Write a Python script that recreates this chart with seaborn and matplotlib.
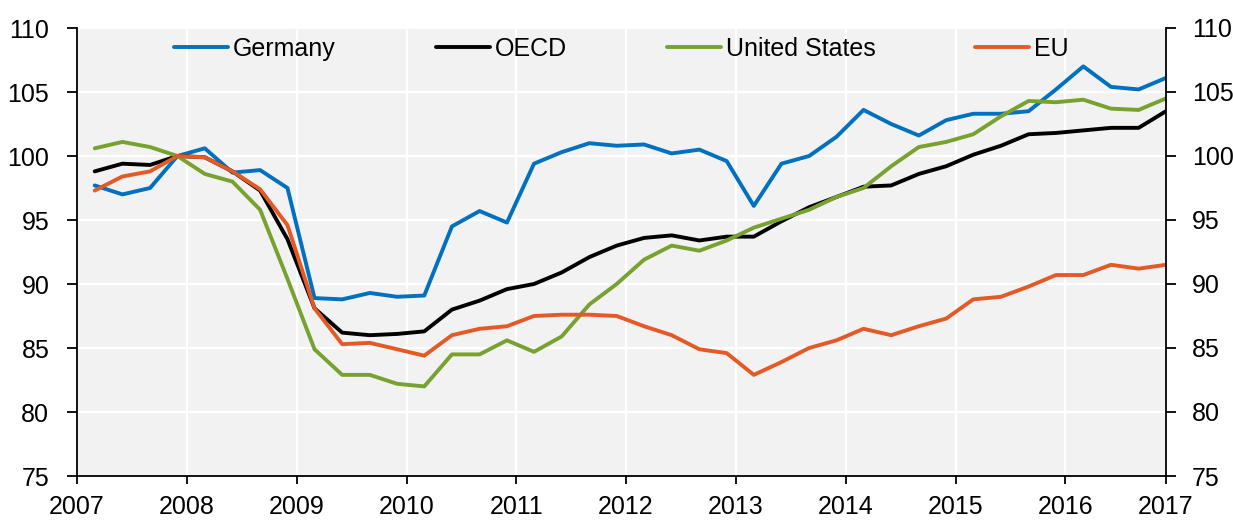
import matplotlib
matplotlib.use('Agg')
import matplotlib.pyplot as plt
import seaborn as sns
import pandas as pd

# quarterly index, 2007Q4 = 100
germany = [97.7, 97.0, 97.5, 100.0, 100.6, 98.7, 98.9, 97.5, 88.9, 88.8,
           89.3, 89.0, 89.1, 94.5, 95.7, 94.8, 99.4, 100.3, 101.0, 100.8,
           100.9, 100.2, 100.5, 99.6, 96.1, 99.4, 100.0, 101.5, 103.6, 102.5,
           101.6, 102.8, 103.3, 103.3, 103.5, 105.2, 107.0, 105.4, 105.2, 106.1]
oecd = [98.8, 99.4, 99.3, 100.0, 99.9, 98.8, 97.3, 93.5, 88.1, 86.2,
        86.0, 86.1, 86.3, 88.0, 88.7, 89.6, 90.0, 90.9, 92.1, 93.0,
        93.6, 93.8, 93.4, 93.7, 93.7, 94.9, 96.0, 96.8, 97.6, 97.7,
        98.6, 99.2, 100.1, 100.8, 101.7, 101.8, 102.0, 102.2, 102.2, 103.5]
united_states = [100.6, 101.1, 100.7, 100.0, 98.6, 98.0, 95.8, 90.4, 84.9, 82.9,
                 82.9, 82.2, 82.0, 84.5, 84.5, 85.6, 84.7, 85.9, 88.4, 90.0,
                 91.9, 93.0, 92.6, 93.4, 94.4, 95.1, 95.8, 96.8, 97.5, 99.2,
                 100.7, 101.1, 101.7, 103.1, 104.3, 104.2, 104.4, 103.7, 103.6, 104.5]
eu = [97.3, 98.4, 98.8, 100.0, 99.9, 98.8, 97.4, 94.6, 88.1, 85.3,
      85.4, 84.9, 84.4, 86.0, 86.5, 86.7, 87.5, 87.6, 87.6, 87.5,
      86.7, 86.0, 84.9, 84.6, 82.9, 83.9, 85.0, 85.6, 86.5, 86.0,
      86.7, 87.3, 88.8, 89.0, 89.8, 90.7, 90.7, 91.5, 91.2, 91.5]

series_names = ['Germany', 'OECD', 'United States', 'EU']
colors = ['#0070C0', '#000000', '#77A22F', '#E35A26']
year_labels = ['2007', '2008', '2009', '2010', '2011', '2012',
               '2013', '2014', '2015', '2016', '2017']
y_ticks = [75, 80, 85, 90, 95, 100, 105, 110]

# last month of each quarter
dates = pd.date_range('2007-03-01', periods=len(germany), freq='3MS')

df = pd.DataFrame({'date': dates, 'Germany': germany, 'OECD': oecd,
                   'United States': united_states, 'EU': eu})
df = df.melt(id_vars='date', var_name='series', value_name='value')

sns.set_style('whitegrid', {'axes.facecolor': '#F2F2F2', 'grid.color': 'white',
                            'axes.edgecolor': 'black', 'text.color': 'black'})
plt.rcParams['font.family'] = ['Liberation Sans', 'DejaVu Sans']

fs = 18
fig = plt.figure(figsize=(12.33, 5.2), dpi=100)
ax = fig.add_axes([77 / 1233, 44 / 520, 1089 / 1233, 448 / 520])

sns.lineplot(data=df, x='date', y='value', hue='series', hue_order=series_names,
             palette=colors, linewidth=2.8, ax=ax)

tick_dates = list(pd.to_datetime([f'{y}-01-01' for y in year_labels[:-1]])) + [dates[-1]]
ax.set_xlim(pd.Timestamp('2007-01-01'), dates[-1])
ax.set_xticks(tick_dates)
ax.set_xticklabels(year_labels)
ax.set_ylim(75, 110)
ax.set_yticks(y_ticks)
ax.set_xlabel('')
ax.set_ylabel('')
ax.grid(True, color='white', linewidth=1.6)

for s in ['top', 'right']:
    ax.spines[s].set_visible(False)
for s in ['left', 'bottom']:
    ax.spines[s].set_color('black')
    ax.spines[s].set_linewidth(1.3)
ax.tick_params(axis='y', left=True, direction='out', length=7.4, width=1.3,
               labelsize=fs, pad=12.5, colors='black')
ax.tick_params(axis='x', bottom=True, direction='out', length=6, width=1.3,
               labelsize=fs, pad=8, colors='black')

ax2 = ax.twinx()
ax2.set_ylim(75, 110)
ax2.set_yticks(y_ticks)
ax2.grid(False)
for s in ['top', 'left', 'bottom']:
    ax2.spines[s].set_visible(False)
ax2.spines['right'].set_color('black')
ax2.spines['right'].set_linewidth(1.3)
ax2.tick_params(axis='y', right=True, direction='out', length=7.2, width=1.3,
                labelsize=fs, pad=11.5, colors='black')

handles, labels = ax.get_legend_handles_labels()
ax.legend(handles, labels, loc='upper center', bbox_to_anchor=(0.5, 1.0), ncol=4,
          frameon=False, fontsize=fs, labelcolor='black', handlelength=2.16,
          handletextpad=0.19, columnspacing=4.0, borderaxespad=0.1, borderpad=0.25)

plt.savefig('out.png', dpi=100)
